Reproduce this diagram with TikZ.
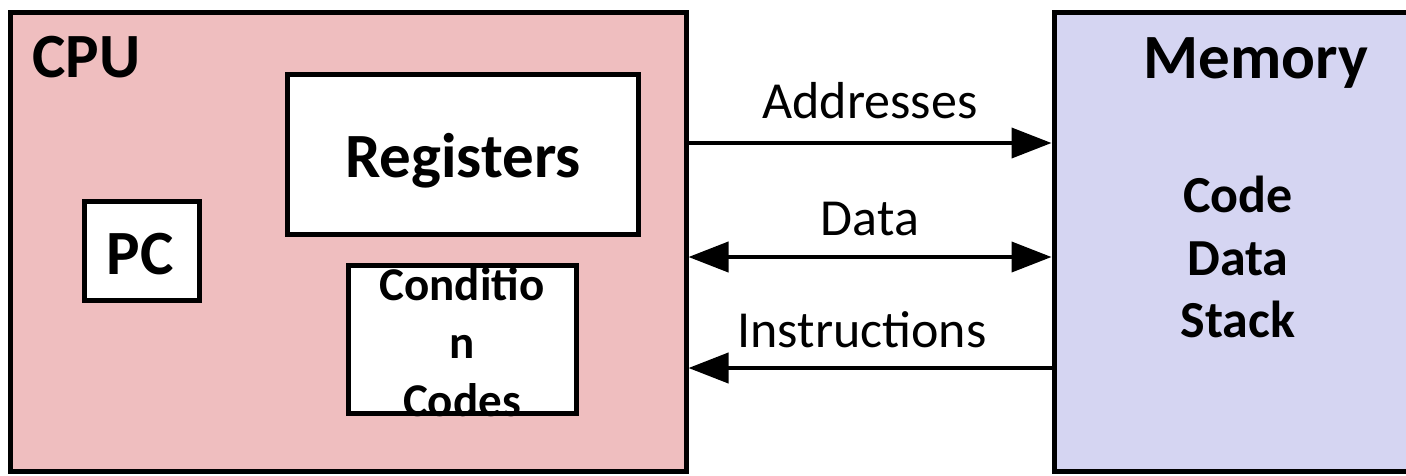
\documentclass[tikz,border=0pt]{standalone}
\usepackage{fontspec}
\setmainfont{Carlito}
\usetikzlibrary{arrows.meta,calc}

\definecolor{cpufill}{RGB}{239,190,191}
\definecolor{memfill}{RGB}{213,213,242}

\tikzset{
  unitbox/.style={draw=black, line width=5pt, rectangle, inner sep=0pt},
  innerbox/.style={unitbox, fill=white},
  biglabel/.style={font=\fontsize{63}{75}\selectfont\bfseries, inner sep=0pt, anchor=base},
  seglabel/.style={font=\fontsize{52}{62}\selectfont\bfseries, inner sep=0pt, anchor=base},
  buslabel/.style={font=\fontsize{52}{62}\selectfont, inner sep=0pt, anchor=base},
  bus/.style={line width=4pt},
  bustip/.style={-{Triangle[length=40pt,width=30pt]}},
}

\begin{document}
\begin{tikzpicture}[x=1pt,y=-1pt]
\useasboundingbox (0,0) rectangle (1406,475);
\fill[white] (0,0) rectangle (1406,475);

% processor and memory blocks
\node[unitbox, fill=cpufill, minimum width=676pt, minimum height=459pt] (cpu) at (348,241.5) {};
\node[unitbox, fill=memfill, minimum width=366pt, minimum height=459pt] (mem) at (1237,241.5) {};

\node[biglabel, anchor=base west] (cpulbl) at (32,77) {CPU};
\node[biglabel] (memlbl) at (1256,78) {Memory};

% parts inside the CPU
\node[innerbox, minimum width=351pt, minimum height=160pt] (reg) at (462.5,154) {};
\node[biglabel] (reglbl) at (463,177) {Registers};
\node[innerbox, minimum width=115pt, minimum height=99pt] (pc) at (141.5,250.5) {};
\node[biglabel] (pclbl) at (140,274) {PC};
\node[innerbox, minimum width=228pt, minimum height=148pt] (cc) at (462,339) {};
\node[font=\fontsize{47}{58}\selectfont\bfseries, align=center, inner sep=0pt]
  (cclbl) at (462,342) {Conditio\\n\\Codes};

% memory contents
\node[seglabel] (code) at (1238,212) {Code};
\node[seglabel] (data) at (1238,275) {Data};
\node[seglabel] (stack) at (1238,337) {Stack};

% buses between CPU and memory
\coordinate (ya) at (0,143);
\coordinate (yd) at (0,257);
\coordinate (yi) at (0,368);
\draw[bus, bustip] (cpu.east |- ya) -- (mem.west |- ya);
\draw[bus, {Triangle[length=40pt,width=30pt]}-{Triangle[length=40pt,width=30pt]}] (cpu.east |- yd) -- (mem.west |- yd);
\draw[bus, bustip] (mem.west |- yi) -- (cpu.east |- yi);

\node[buslabel] (addr) at (870,118) {Addresses};
\node[buslabel] (dlbl) at (870,235) {Data};
\node[buslabel] (instr) at (862,347) {Instructions};
\end{tikzpicture}
\end{document}
